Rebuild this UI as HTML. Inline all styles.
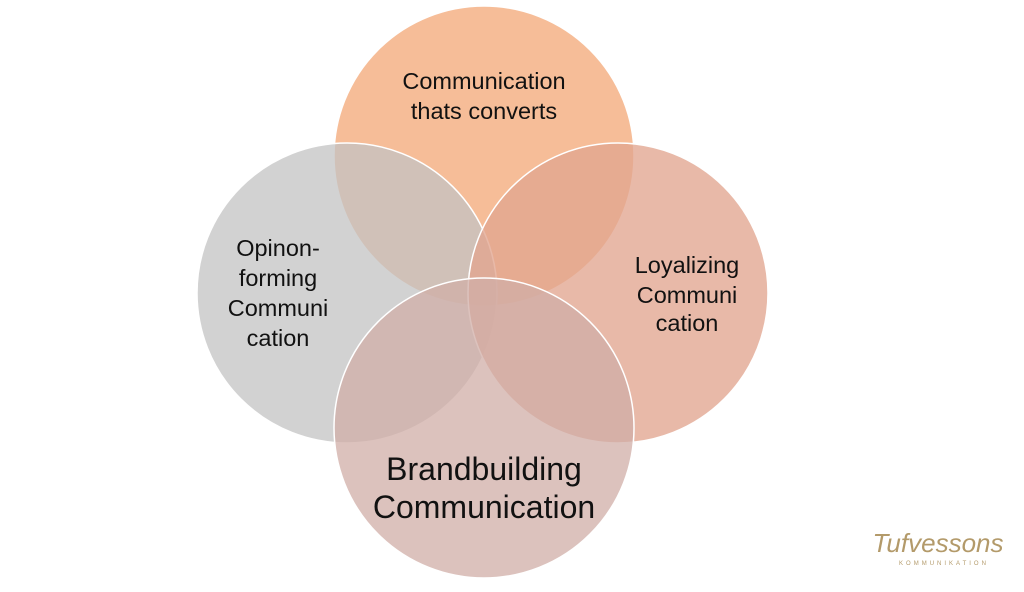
<!DOCTYPE html>
<html><head><meta charset="utf-8"><style>
html,body{margin:0;padding:0;background:#fff;width:1024px;height:592px;overflow:hidden}
svg{display:block}
text{font-family:"Liberation Sans",sans-serif;fill:#111}
</style></head><body>
<svg width="1024" height="592" viewBox="0 0 1024 592">
<g stroke="#fff" stroke-width="1.5">
<circle cx="484" cy="156" r="150" fill="#f3a775" fill-opacity="0.75"/>
<circle cx="347" cy="293" r="150" fill="#c3c3c3" fill-opacity="0.75"/>
<circle cx="618" cy="293" r="150" fill="#e1a58f" fill-opacity="0.78"/>
<circle cx="484" cy="428" r="150" fill="#d0ada7" fill-opacity="0.75"/>
</g>
<g text-anchor="middle" font-size="23.5">
<text x="484" y="89">Communication</text>
<text x="484" y="119">thats converts</text>
<text x="278" y="256">Opinon-</text>
<text x="278" y="286">forming</text>
<text x="278" y="316">Communi</text>
<text x="278" y="346">cation</text>
<text x="687" y="273">Loyalizing</text>
<text x="687" y="303">Communi</text>
<text x="687" y="331">cation</text>
<text x="484" y="480" font-size="32">Brandbuilding</text>
<text x="484" y="518" font-size="32">Communication</text>
</g>
<text x="938" y="552" text-anchor="middle" font-family="Liberation Serif,serif" font-style="italic" font-size="26" style="fill:#b39a6a">Tufvessons</text>
<text x="944" y="565" text-anchor="middle" font-size="6" letter-spacing="3" style="fill:#b39a6a">KOMMUNIKATION</text>
</svg>
</body></html>
